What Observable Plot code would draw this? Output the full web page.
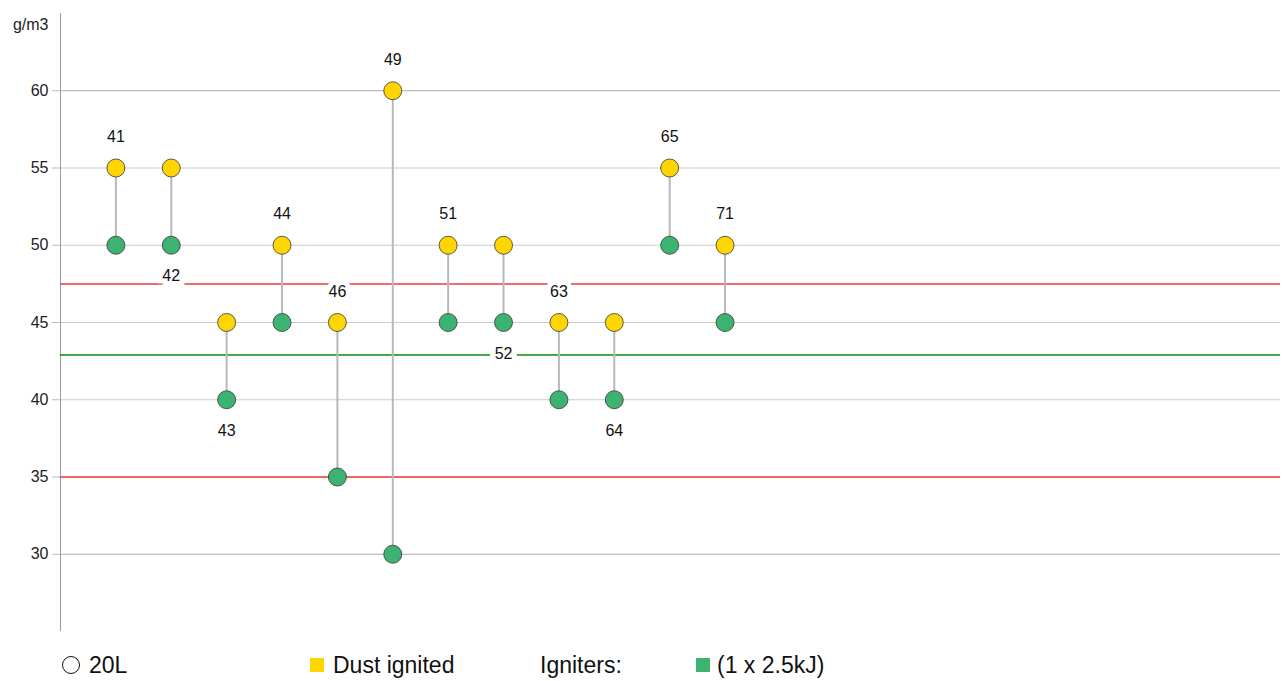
<!DOCTYPE html>
<html>
<head>
<meta charset="utf-8">
<script src="https://cdn.jsdelivr.net/npm/d3@7"></script>
<script src="https://cdn.jsdelivr.net/npm/@observablehq/plot@0.6"></script>
<style>
  html, body { margin: 0; padding: 0; background: #fff; }
  body { font-family: "Liberation Sans", Arial, sans-serif; width: 1284px; height: 681px; position: relative; overflow: hidden; }
  #legend { position: absolute; left: 0; top: 640px; width: 1284px; height: 41px; font-size: 23px; color: #111; }
  #legend .it { position: absolute; top: 13px; line-height: 24px; white-space: nowrap; }
  #legend .sw { position: absolute; }
</style>
</head>
<body>
<div id="chart"></div>
<div id="legend"></div>
<script>
// ---- data ----
const tests    = [1, 2, 3, 4, 5, 6, 7, 8, 9, 10, 11, 12];
const ignited  = [55, 55, 45, 50, 45, 60, 50, 50, 45, 45, 55, 50];   // Dust ignited (yellow)
const igniters = [50, 50, 40, 45, 35, 30, 45, 45, 40, 40, 50, 45];   // Igniters 1 x 2.5kJ (green)
const labels   = ["41", "42", "43", "44", "46", "49", "51", "52", "63", "64", "65", "71"];
const labelPos = ["above", "below", "below", "above", "above", "above", "above", "below", "above", "below", "above", "above"];
const yTicks   = [30, 35, 40, 45, 50, 55, 60];
const redLines = [47.5, 35];
const greenLines = [42.9];
const yUnit = "g/m3";

const rows = tests.map((t, i) => ({
  t, top: ignited[i], bottom: igniters[i], label: labels[i], pos: labelPos[i]
}));

const chart = Plot.plot({
  width: 1284,
  height: 640,
  marginLeft: 60,
  marginRight: 4,
  marginTop: 13,
  marginBottom: 9,
  style: { fontFamily: "Liberation Sans, Arial, sans-serif", fontSize: "16px", color: "#222", background: "#fff" },
  x: { domain: [0, 22.03], axis: null },
  y: { domain: [25, 65], ticks: yTicks, label: null },
  marks: [
    Plot.ruleY(yTicks, { stroke: d => (d === 30 || d === 60) ? "#aaa" : "#ccc", strokeWidth: 1.2 }),
    Plot.axisY(yTicks, { tickSize: 8, tickPadding: 4, stroke: "#bbb", fontSize: 16, fill: "#222" }),
    Plot.ruleX([0], { stroke: "#999" }),
    Plot.ruleY(redLines, { stroke: "#f03a3a", strokeWidth: 1.5 }),
    Plot.ruleY(greenLines, { stroke: "#0a8a0a", strokeWidth: 1.5 }),
    Plot.ruleX(rows, { x: "t", y1: "bottom", y2: "top", stroke: "#b8b8b8", strokeWidth: 2 }),
    Plot.dot(rows, { x: "t", y: "top", r: 9, fill: "#FFD500", stroke: "#333", strokeWidth: 0.8 }),
    Plot.dot(rows, { x: "t", y: "bottom", r: 9, fill: "#3CB371", stroke: "#333", strokeWidth: 0.8 }),
    Plot.text(rows.filter(d => d.pos === "above"), {
      x: "t", y: "top", text: "label", dy: -31, fontSize: 16, fill: "#111",
      stroke: "white", strokeWidth: 10, strokeLinejoin: "miter"
    }),
    Plot.text(rows.filter(d => d.pos === "below"), {
      x: "t", y: "bottom", text: "label", dy: 31, fontSize: 16, fill: "#111",
      stroke: "white", strokeWidth: 10, strokeLinejoin: "miter"
    }),
    Plot.text([yUnit], { frameAnchor: "top-left", dx: -12, dy: 5, textAnchor: "end", fontSize: 16, fill: "#222" })
  ]
});
document.getElementById("chart").appendChild(chart);

// ---- legend ----
const legendItems = [
  { kind: "circle", x: 62, text: "20L", tx: 89 },
  { kind: "square", color: "#FFD500", x: 310, text: "Dust ignited", tx: 333 },
  { kind: "none", text: "Igniters:", tx: 540 },
  { kind: "square", color: "#3CB371", x: 696, text: "(1 x 2.5kJ)", tx: 717 }
];
const legend = document.getElementById("legend");
for (const it of legendItems) {
  if (it.kind === "circle") {
    const s = document.createElement("div");
    s.className = "sw";
    Object.assign(s.style, { left: it.x + "px", top: "16px", width: "18px", height: "18px", border: "1.3px solid #111", borderRadius: "50%", boxSizing: "border-box" });
    legend.appendChild(s);
  } else if (it.kind === "square") {
    const s = document.createElement("div");
    s.className = "sw";
    Object.assign(s.style, { left: it.x + "px", top: "18px", width: "14px", height: "14px", background: it.color });
    legend.appendChild(s);
  }
  const t = document.createElement("span");
  t.className = "it";
  t.style.left = it.tx + "px";
  t.textContent = it.text;
  legend.appendChild(t);
}
</script>
</body>
</html>
